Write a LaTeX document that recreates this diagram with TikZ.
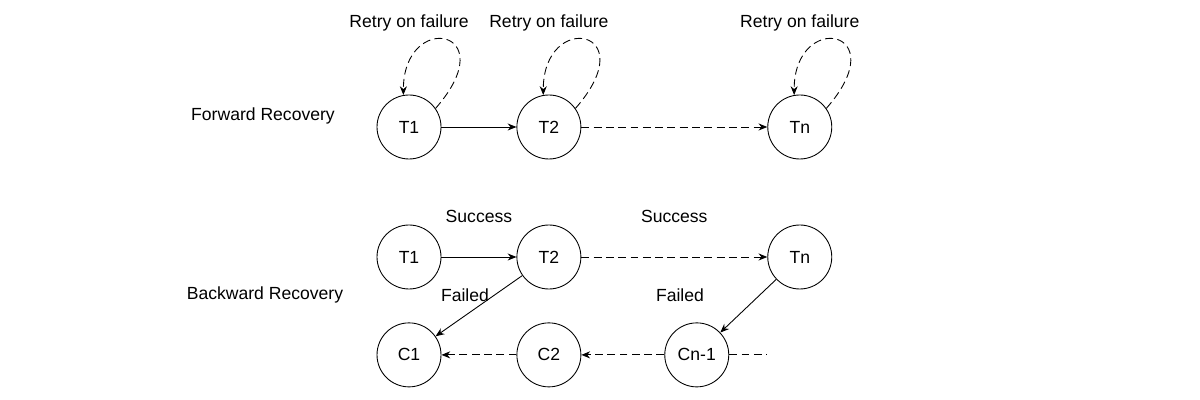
\documentclass[tikz,border=0pt]{standalone}
\usepackage{fontspec}
\setmainfont{Liberation Sans}
\usepackage{tikz}
\usetikzlibrary{arrows.meta,positioning}

\begin{document}
\begin{tikzpicture}[every node/.style={font=\fontsize{10}{12}\selectfont,align=center},task/.style={draw,circle,line width=0.5pt,minimum size=1.28cm,inner sep=0pt},arr/.style={-{Stealth[length=5pt,width=4pt]},line width=0.5pt},dsh/.style={arr,dash pattern=on 4.5pt off 2.5pt}]
\useasboundingbox (0,0) rectangle (24,8);
\node (fwd) at (5.26,5.68) {Forward Recovery};
\node[task] (ft1) at (8.18,5.46) {T1};
\node[task,right=1.5cm of ft1] (ft2) {T2};
\node[task,right=3.72cm of ft2] (ftn) {Tn};
\node[above=1.14cm of ft1] (retry1) {Retry on failure};
\node[above=1.14cm of ft2] (retry2) {Retry on failure};
\node[above=1.14cm of ftn] (retryn) {Retry on failure};
\draw[dsh] (ft1.35) .. controls +(1.4,1.6) and +(0,1.7) .. (ft1.100);
\draw[dsh] (ft2.35) .. controls +(1.4,1.6) and +(0,1.7) .. (ft2.100);
\draw[dsh] (ftn.35) .. controls +(1.4,1.6) and +(0,1.7) .. (ftn.100);
\draw[arr] (ft1)--(ft2);
\draw[dsh] (ft2)--(ftn);
\node (bwd) at (5.30,2.10) {Backward Recovery};
\node[task] (bt1) at (8.18,2.86) {T1};
\node[task,right=1.5cm of bt1] (bt2) {T2};
\node[task,right=3.72cm of bt2] (btn) {Tn};
\node[task,below=0.66cm of bt1] (c1) {C1};
\node[task,below=0.66cm of bt2] (c2) {C2};
\node[task,right=1.66cm of c2] (cn) {Cn-1};
\coordinate[right=0.76cm of cn] (cend);
\node (fail1) at (9.30,2.10) {Failed};
\node (fail2) at (13.60,2.10) {Failed};
\draw[arr] (bt1)--node[above=0.56cm] (succ1) {Success}(bt2);
\draw[dsh] (bt2)--node[above=0.56cm] (succ2) {Success}(btn);
\draw[arr] (bt2)--(c1);
\draw[arr] (btn)--(cn);
\draw[dsh] (c2)--(c1);
\draw[dsh] (cn)--(c2);
\draw[dsh,-] (cn)--(cend);
\end{tikzpicture}
\end{document}
